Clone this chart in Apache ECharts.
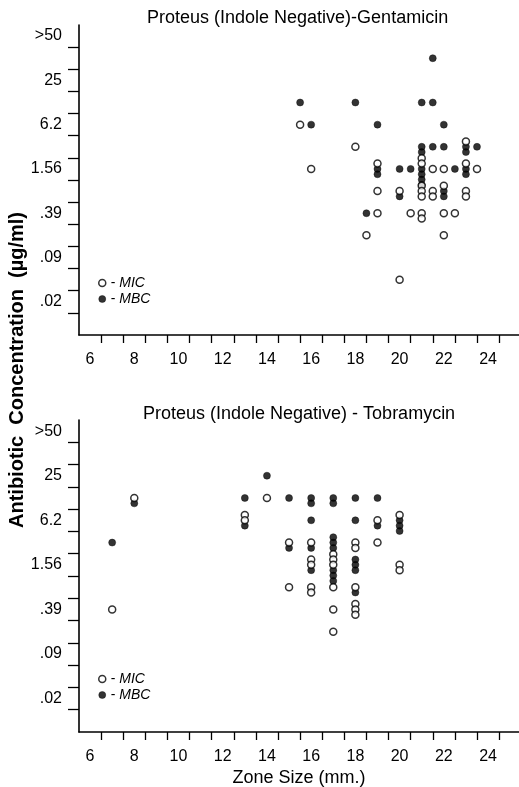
<!DOCTYPE html>
<html>
<head>
<meta charset="utf-8">
<script src="https://cdn.jsdelivr.net/npm/echarts@6/dist/echarts.min.js"></script>
<style>
html,body{margin:0;padding:0;background:#fff;}
#chart{width:519px;height:787px;}
</style>
</head>
<body>
<div id="chart"></div>
<script>
// ---- Data (zone size mm, concentration µg/ml); one entry per isolate ----
const gentamicinMIC = [
  [15.5, 6.25], [16, 1.56], [18, 3.12], [18.5, 0.195], [19, 1.56], [19, 0.78], [19, 0.39],
  [20, 0.78], [20, 0.049], [20.5, 0.39],
  [21, 1.56], [21, 1.56], [21, 0.78], [21, 0.78], [21, 0.78], [21, 0.39], [21, 0.39],
  [21.5, 1.56], [21.5, 0.78], [21.5, 0.78],
  [22, 1.56], [22, 0.78], [22, 0.39], [22, 0.195], [22.5, 0.39],
  [23, 3.12], [23, 1.56], [23, 0.78], [23, 0.78], [23.5, 1.56]
];
const gentamicinMBC = [
  [15.5, 12.5], [16, 6.25], [18, 12.5], [18.5, 0.39], [19, 6.25], [19, 1.56], [19, 1.56],
  [20, 1.56], [20, 0.78], [20.5, 1.56],
  [21, 12.5], [21, 3.12], [21, 3.12], [21, 1.56], [21, 1.56], [21, 1.56], [21, 1.56],
  [21.5, 50], [21.5, 12.5], [21.5, 3.12],
  [22, 6.25], [22, 3.12], [22, 0.78], [22, 0.78], [22.5, 1.56],
  [23, 3.12], [23, 3.12], [23, 1.56], [23, 1.56], [23.5, 3.12]
];
const tobramycinMIC = [
  [7, 0.39], [8, 12.5], [13, 6.25], [13, 6.25], [14, 12.5], [15, 3.12], [15, 0.78],
  [16, 3.12], [16, 1.56], [16, 1.56], [16, 0.78], [16, 0.78],
  [17, 1.56], [17, 1.56], [17, 1.56], [17, 0.78], [17, 0.39], [17, 0.195],
  [18, 3.12], [18, 3.12], [18, 0.78], [18, 0.39], [18, 0.39], [18, 0.39],
  [19, 6.25], [19, 3.12], [20, 6.25], [20, 1.56], [20, 1.56]
];
const tobramycinMBC = [
  [7, 3.12], [8, 12.5], [13, 12.5], [13, 6.25], [14, 25], [15, 12.5], [15, 3.12],
  [16, 12.5], [16, 12.5], [16, 6.25], [16, 3.12], [16, 1.56],
  [17, 12.5], [17, 12.5], [17, 3.12], [17, 3.12], [17, 3.12], [17, 1.56], [17, 1.56], [17, 1.56],
  [18, 12.5], [18, 6.25], [18, 1.56], [18, 1.56], [18, 1.56], [18, 0.78],
  [19, 12.5], [19, 6.25], [20, 6.25], [20, 6.25], [20, 6.25]
];
const yLevelLabels = ['.02', '.09', '.39', '1.56', '6.2', '25', '>50'];
const xTickLabels = [6, 8, 10, 12, 14, 16, 18, 20, 22, 24];
const titles = ['Proteus (Indole Negative)-Gentamicin', 'Proteus (Indole Negative) - Tobramycin'];

// ---- helpers ----
const BASE = 50 / 2048;            // lowest dilution step (.02)
const STEP = 0.24;                 // vertical offset for coincident isolates
function level(c) { return Math.round(Math.log2(c / BASE)); }
function stack(mic, mbc) {
  const groups = {};
  const all = mic.map(p => ({p, s: 'mic'})).concat(mbc.map(p => ({p, s: 'mbc'})));
  all.forEach(o => {
    const k = o.p[0] + '|' + level(o.p[1]);
    (groups[k] = groups[k] || []).push(o);
  });
  const out = {mic: [], mbc: []};
  Object.values(groups).forEach(g => {
    const n = g.length;
    g.forEach((o, i) => {
      const y = level(o.p[1]) + 0.5 + STEP * (Math.floor((n - 1) / 2) - i);
      out[o.s].push([o.p[0], y]);
    });
  });
  return out;
}
const gent = stack(gentamicinMIC, gentamicinMBC);
const tobr = stack(tobramycinMIC, tobramycinMBC);

const FONT = 'Liberation Sans';
const INK = '#000';
const xTicks = []; for (let v = 6.5; v <= 24.5; v += 1) xTicks.push(v);
const yTicks = []; for (let v = 0; v <= 12; v += 1) yTicks.push(v);
const yLabelPos = yLevelLabels.map((_, i) => i * 2 + 0.5);

function xAxis(idx, withName) {
  return {
    type: 'value', gridIndex: idx, min: 5.5, max: 25.4,
    axisLine: {onZero: false, lineStyle: {color: INK, width: 1.6}},
    axisTick: {show: true, customValues: xTicks, length: 8, lineStyle: {color: INK, width: 1.3}},
    axisLabel: {customValues: xTickLabels, margin: 17, color: INK, fontFamily: FONT, fontSize: 16},
    splitLine: {show: false},
    name: withName ? 'Zone Size (mm.)' : '',
    nameLocation: 'middle', nameGap: 37,
    nameTextStyle: {color: INK, fontFamily: FONT, fontSize: 18}
  };
}
function yAxis(idx) {
  return {
    type: 'value', gridIndex: idx, min: -1, max: 13,
    axisLine: {onZero: false, lineStyle: {color: INK, width: 1.6}},
    axisTick: {show: true, customValues: yTicks, length: 11, lineStyle: {color: INK, width: 1.3}},
    axisLabel: {
      customValues: yLabelPos, margin: 17, color: INK, fontFamily: FONT, fontSize: 16,
      formatter: v => yLevelLabels[Math.round((v - 0.5) / 2)]
    },
    splitLine: {show: false}
  };
}
const micStyle = {color: '#fff', borderColor: INK, borderWidth: 1.5};
const mbcStyle = {color: INK, borderColor: INK, borderWidth: 0.5};
function legend(top) {
  return {
    orient: 'vertical', left: 93, top: top, itemWidth: 7, itemHeight: 7, itemGap: 2,
    selectedMode: false,
    data: [
      {name: 'MIC', icon: 'circle', itemStyle: micStyle},
      {name: 'MBC', icon: 'circle', itemStyle: mbcStyle}
    ],
    formatter: n => '{d|- }{n|' + n + '}',
    textStyle: {
      color: INK, fontFamily: FONT, fontSize: 14,
      rich: {d: {fontFamily: FONT, fontSize: 14, color: INK}, n: {fontFamily: FONT, fontSize: 14, fontStyle: 'italic', color: INK}}
    }
  };
}

const chart = echarts.init(document.getElementById('chart'), null, {renderer: 'canvas'});
chart.setOption({
  animation: false,
  backgroundColor: '#fff',
  title: [
    {text: titles[0], left: 142, top: 4, textStyle: {color: INK, fontFamily: FONT, fontSize: 18, fontWeight: 'normal'}},
    {text: titles[1], left: 138, top: 400, textStyle: {color: INK, fontFamily: FONT, fontSize: 18, fontWeight: 'normal'}}
  ],
  legend: [legend(271), legend(667)],
  grid: [
    {left: 79, right: 0, top: 25, height: 310, outerBoundsMode: 'none'},
    {left: 79, right: 0, top: 420, height: 312, outerBoundsMode: 'none'}
  ],
  xAxis: [xAxis(0, false), xAxis(1, true)],
  yAxis: [yAxis(0), yAxis(1)],
  graphic: [{
    type: 'text', x: 17, y: 370, rotation: Math.PI / 2,
    style: {
      text: 'Antibiotic  Concentration  (µg/ml)', fill: INK,
      font: 'bold 20px "Liberation Sans"', textAlign: 'center', textVerticalAlign: 'middle'
    }
  }],
  series: [
    {name: 'MBC', type: 'scatter', xAxisIndex: 0, yAxisIndex: 0, symbol: 'circle', symbolSize: 7, itemStyle: mbcStyle, data: gent.mbc, z: 2},
    {name: 'MIC', type: 'scatter', xAxisIndex: 0, yAxisIndex: 0, symbol: 'circle', symbolSize: 7, itemStyle: micStyle, data: gent.mic, z: 3},
    {name: 'MBC', type: 'scatter', xAxisIndex: 1, yAxisIndex: 1, symbol: 'circle', symbolSize: 7, itemStyle: mbcStyle, data: tobr.mbc, z: 2},
    {name: 'MIC', type: 'scatter', xAxisIndex: 1, yAxisIndex: 1, symbol: 'circle', symbolSize: 7, itemStyle: micStyle, data: tobr.mic, z: 3}
  ]
});
</script>
</body>
</html>
